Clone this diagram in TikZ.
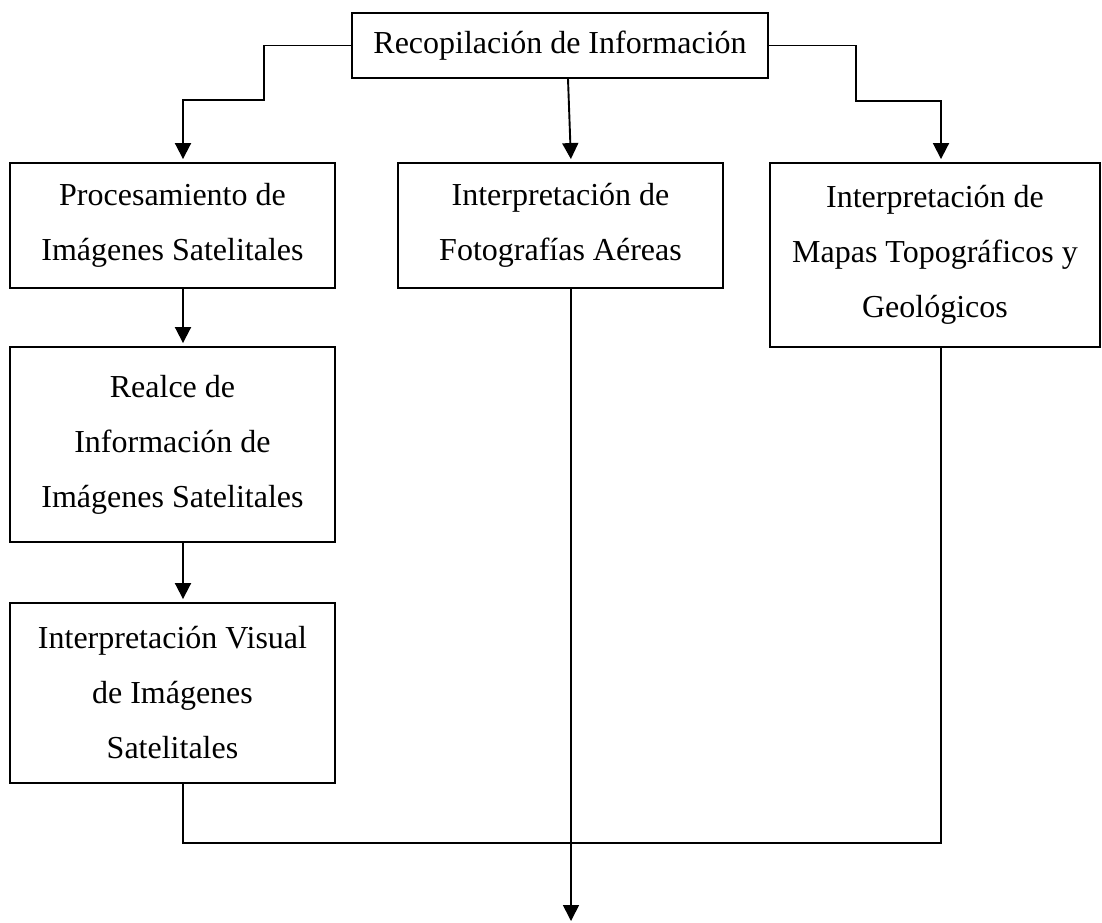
\documentclass[tikz,border=0pt]{standalone}
\usepackage{fontspec}
\setmainfont{Liberation Serif}
\usetikzlibrary{arrows.meta}
\tikzset{
  box/.style={draw, line width=1.9pt, inner sep=0pt, align=center,
    font=\fontsize{32pt}{55pt}\selectfont},
  conn/.style={line width=1.9pt},
  arr/.style={conn, -{Triangle[width=16pt,length=16pt]}, shorten >=3pt}
}
\begin{document}
\begin{tikzpicture}[x=1pt,y=-1pt]
\useasboundingbox (0,0) rectangle (1102,922);
\node[box, minimum width=416pt, minimum height=65pt] (top) at (560,45.5) {Recopilación de Información};
\node[box, minimum width=325pt, minimum height=125pt] (proc) at (172.5,225.5) {Procesamiento de\\Imágenes Satelitales};
\node[box, minimum width=325pt, minimum height=125pt] (fot) at (560.5,225.5) {Interpretación de\\Fotografías Aéreas};
\node[box, minimum width=330pt, minimum height=184pt] (map) at (935,255) {Interpretación de\\Mapas Topográficos y\\Geológicos};
\node[box, minimum width=325pt, minimum height=195pt] (real) at (172.5,444.5) {Realce de\\Información de\\Imágenes Satelitales};
\node[box, minimum width=325pt, minimum height=180pt] (vis) at (172.5,693) {Interpretación Visual\\de Imágenes\\Satelitales};
\coordinate (l1) at (264,100);
\coordinate (r1) at (856,101);
\coordinate (jn) at (571,843);
\coordinate (end) at (571,921);
\draw[arr] (top.west) -| (l1) -| ([xshift=10.5pt]proc.north);
\draw[arr] (top.east) -| (r1) -| ([xshift=6pt]map.north);
\draw[arr] ([xshift=8pt]top.south) -- ([xshift=10.5pt]fot.north);
\draw[arr] ([xshift=10.5pt]proc.south) -- ([xshift=10.5pt]real.north);
\draw[arr] ([xshift=10.5pt]real.south) -- ([xshift=10.5pt]vis.north);
\draw[conn, line width=1.6pt] ([xshift=10.5pt]vis.south) |- (jn) -| ([xshift=6pt]map.south);
\draw[arr, line width=1.6pt, shorten >=0pt] ([xshift=10.5pt]fot.south) -- (end);
\end{tikzpicture}
\end{document}
